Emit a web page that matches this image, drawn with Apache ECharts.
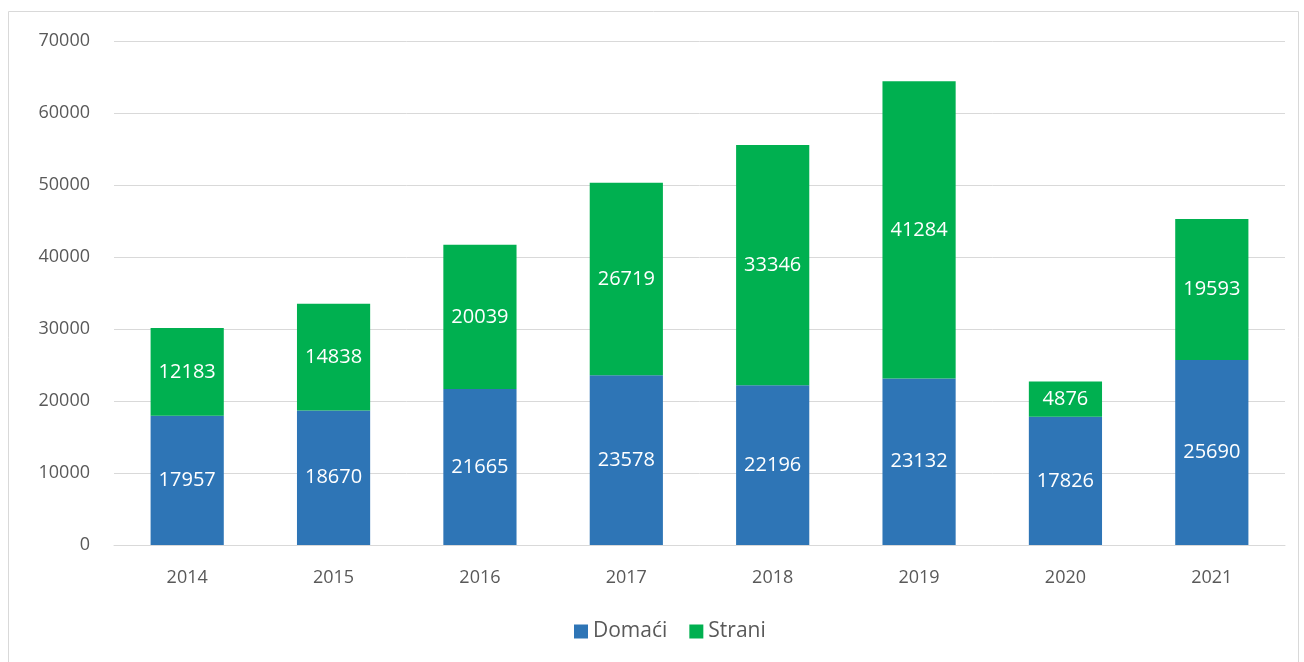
<!DOCTYPE html>
<html>
<head>
<meta charset="utf-8">
<script src="https://cdn.jsdelivr.net/npm/echarts@6/dist/echarts.min.js"></script>
<style>
html,body{margin:0;padding:0;background:#fff;}
#c{width:1304px;height:662px;}
</style>
</head>
<body>
<div id="c"></div>
<script>
const categories = ['2014','2015','2016','2017','2018','2019','2020','2021'];
const domaci = [17957, 18670, 21665, 23578, 22196, 23132, 17826, 25690];
const strani = [12183, 14838, 20039, 26719, 33346, 41284, 4876, 19593];
const seriesNames = ['Domaći', 'Strani'];

const chart = echarts.init(document.getElementById('c'));
const font = 'Open Sans, Lato, sans-serif';
const labelStyle = {show: true, position: 'inside', color: '#ffffff', fontSize: 20, fontFamily: font};
chart.setOption({
  animation: false,
  textStyle: {fontFamily: font},
  graphic: [{
    type: 'rect', shape: {x: 8.5, y: 11.5, width: 1290, height: 700},
    style: {fill: 'none', stroke: '#d9d9d9', lineWidth: 1}, silent: true
  }],
  grid: {left: 114, right: 19, top: 41, bottom: 117, containLabel: false},
  legend: {
    data: seriesNames, bottom: 15, left: 569, itemWidth: 14, itemHeight: 14, itemGap: 22,
    itemStyle: {borderWidth: 0},
    icon: 'rect', textStyle: {color: '#595959', fontSize: 21, fontFamily: font}
  },
  xAxis: {
    type: 'category', data: categories,
    axisLine: {show: true, lineStyle: {color: '#d9d9d9', width: 1}},
    axisTick: {show: false},
    axisLabel: {color: '#595959', fontSize: 18, margin: 24, fontFamily: font}
  },
  yAxis: {
    type: 'value', min: 0, max: 70000, interval: 10000,
    axisLine: {show: false}, axisTick: {show: false},
    splitLine: {lineStyle: {color: '#d9d9d9', width: 1}},
    axisLabel: {color: '#595959', fontSize: 18, margin: 24, fontFamily: font,
      formatter: function (v) { return String(v); }}
  },
  series: [
    {name: seriesNames[0], type: 'bar', stack: 't', data: domaci, barWidth: '50%',
     itemStyle: {color: '#2E75B6'}, label: labelStyle},
    {name: seriesNames[1], type: 'bar', stack: 't', data: strani, barWidth: '50%',
     itemStyle: {color: '#00B050'}, label: labelStyle}
  ]
});
</script>
</body>
</html>
